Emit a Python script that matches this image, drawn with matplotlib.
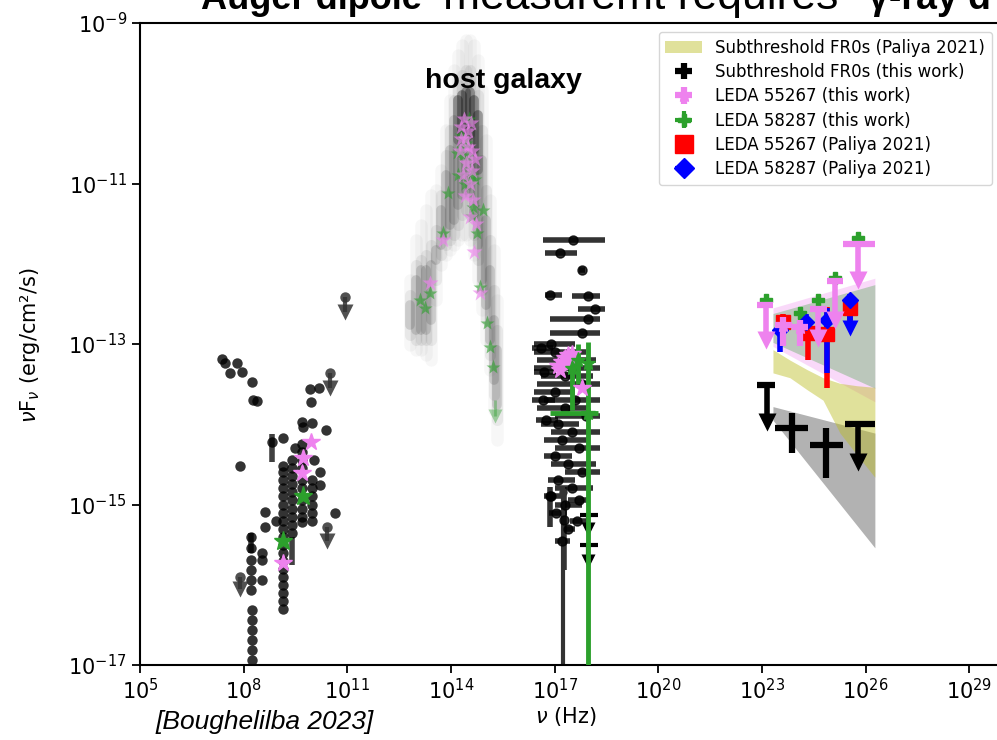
import numpy as np
import matplotlib.pyplot as plt
from matplotlib.patches import Patch

# ---------------- data (log10 nu [Hz], log10 nuFnu [erg/cm2/s]) ----------------
# radio, subthreshold FR0s (this work)
radio_lognu = [7.36, 7.46, 7.60, 7.80, 7.94, 8.23, 8.27, 8.38,
               9.92, 10.18, 9.95, 9.68, 9.97, 9.71, 10.38,
               8.81, 9.14, 7.89, 10.21, 10.21, 10.64, 8.62, 8.62, 8.94,
               8.21, 8.21, 8.21, 8.21, 8.21, 8.21, 8.52, 8.52, 8.52,
               8.23, 8.23, 8.23, 8.23, 8.23, 8.23,
               9.14, 9.14, 9.14, 9.14, 9.14, 9.14, 9.14, 9.14, 9.14, 9.14,
               9.14, 9.14, 9.14, 9.14, 9.14, 9.14, 9.14, 9.14, 9.14,
               9.39, 9.39, 9.39, 9.39, 9.39, 9.39, 9.39, 9.39, 9.39, 9.39,
               9.68, 9.68, 9.68, 9.68, 9.68, 9.68, 9.68, 9.68, 9.68, 9.68,
               9.97, 9.97, 9.97, 9.97, 9.97, 9.97, 9.50, 10.05]
radio_logf = [-13.19, -13.24, -13.36, -13.24, -13.35, -13.47, -13.70, -13.71,
              -13.56, -13.55, -13.72, -13.97, -13.98, -14.03, -14.07,
              -14.22, -14.17, -14.52, -14.59, -14.76, -15.11, -15.09, -15.28, -15.20,
              -15.40, -15.54, -15.69, -15.82, -15.94, -16.07, -15.60, -15.69, -15.94,
              -16.31, -16.44, -16.56, -16.69, -16.81, -16.94,
              -14.52, -14.60, -14.70, -14.80, -14.90, -15.00, -15.10, -15.20, -15.30, -15.40,
              -15.50, -15.60, -15.70, -15.80, -15.90, -16.00, -16.10, -16.20, -16.30,
              -14.45, -14.55, -14.65, -14.75, -14.85, -14.95, -15.05, -15.15, -15.25, -15.35,
              -14.25, -14.35, -14.45, -14.55, -14.70, -14.80, -14.95, -15.05, -15.15, -15.22,
              -14.70, -14.80, -14.90, -15.00, -15.10, -15.20, -14.30, -14.45]
radio_err_lognu = [8.81, 9.39, 8.21]
radio_err_logf = [-14.22, -15.50, -15.45]
radio_err_lo = [-14.47, -15.75, -15.60]
radio_err_hi = [-14.12, -15.40, -15.35]
radio_ul_lognu = [10.50, 10.93, 10.40, 7.89]
radio_ul_logf = [-13.36, -12.41, -15.28, -15.90]
radio_ul_tip = [-13.55, -12.60, -15.45, -16.05]
radio_pink_lognu = [9.95, 9.71, 9.68, 9.15]
radio_pink_logf = [-14.22, -14.42, -14.61, -15.73]
radio_green_lognu = [9.71, 9.15]
radio_green_logf = [-14.90, -15.46]

# host galaxy photometry cloud: band and flux spread (outer / mid / inner / core)
host_lognu = [12.81, 12.99, 13.13, 13.28, 13.42, 13.57, 13.71, 13.86, 13.97, 14.09, 14.20,
              14.32, 14.44, 14.55, 14.67, 14.78, 14.90, 15.01, 15.13, 15.25, 15.33]
host_out_hi = [-12.20, -11.70, -11.52, -11.33, -11.14, -11.08, -10.83, -10.33, -9.96, -9.59, -9.40,
               -9.27, -9.21, -9.21, -9.27, -9.46, -9.83, -10.46, -11.21, -11.83, -12.45]
host_out_lo = [-13.01, -13.07, -13.07, -13.14, -13.20, -12.45, -12.02, -11.89, -11.83, -11.77, -11.70,
               -11.64, -11.64, -11.70, -11.89, -12.20, -12.58, -12.95, -13.32, -13.82, -14.20]
host_mid_hi = [-12.39, -12.02, -11.95, -11.89, -11.77, -11.58, -11.14, -10.64, -10.33, -9.96, -9.77,
               -9.65, -9.59, -9.59, -9.71, -9.90, -10.33, -11.08, -11.70, -12.33, -12.83]
host_mid_lo = [-12.89, -12.95, -12.95, -12.95, -12.95, -12.20, -11.89, -11.77, -11.70, -11.64, -11.52,
               -11.39, -11.33, -11.39, -11.64, -11.95, -12.33, -12.70, -13.14, -13.64, -13.95]
host_in_hi = [-12.51, -12.20, -12.08, -12.08, -12.02, -11.83, -11.33, -10.89, -10.58, -10.21, -9.96,
              -9.90, -9.86, -9.86, -9.96, -10.15, -10.71, -11.45, -12.08, -12.70, -13.07]
host_in_lo = [-12.76, -12.83, -12.83, -12.83, -12.70, -11.95, -11.77, -11.64, -11.52, -11.45, -11.27,
              -11.14, -11.08, -11.14, -11.39, -11.77, -12.20, -12.51, -12.95, -13.45, -13.76]
host_core_lognu = [14.20, 14.32, 14.44, 14.55, 14.67, 14.78]
host_core_hi = [-9.96, -9.90, -9.86, -9.86, -9.96, -10.15]
host_core_lo = [-10.46, -10.40, -10.33, -10.40, -10.58, -10.83]
host_green_lognu = [13.10, 13.39, 13.77, 13.91, 14.18, 14.64, 14.93, 14.75, 14.84,
                    15.04, 15.13, 15.22, 14.30, 14.45, 14.60, 14.40, 14.20, 13.25, 14.70,
                    14.52, 14.35, 14.62]
host_green_logf = [-12.45, -12.36, -11.62, -11.12, -10.62, -11.29, -11.33, -11.62, -12.29,
                   -12.74, -13.04, -13.29, -10.40, -10.50, -10.90, -11.00, -10.90, -12.55, -10.95,
                   -10.20, -10.65, -11.40]
host_pink_lognu = [13.39, 13.77, 14.84, 14.55, 14.30, 14.40, 14.50, 14.60, 14.45,
                   14.35, 14.55, 14.70, 14.25, 14.65, 14.38, 14.58, 14.72,
                   14.28, 14.48, 14.62, 14.42, 14.68]
host_pink_logf = [-12.24, -11.70, -12.36, -11.42, -10.30, -10.45, -10.35, -10.60, -10.75,
                  -10.90, -11.00, -10.70, -10.60, -11.20, -10.20, -10.25, -11.50,
                  -10.45, -10.55, -10.85, -11.15, -11.85]
host_green_ul_lognu = [15.27]
host_green_ul_logf = [-13.70]
host_green_ul_tip = [-13.90]

# X-ray, black (this work): value and x range
xr_lognu = [17.53, 17.16, 17.79, 16.87, 17.97, 18.17, 17.97, 17.79,
            16.90, 17.00, 17.20, 17.50, 17.30, 17.80, 17.00, 17.60, 17.30, 17.90, 17.10,
            17.50, 17.20, 17.70, 17.00, 17.40, 17.80, 17.10, 17.50, 16.90, 17.30, 17.70,
            16.60, 16.70, 16.65, 16.75, 17.05, 17.40, 17.65, 17.20]
xr_lo = [16.66, 16.72, 17.70, 16.72, 17.50, 17.68, 16.87, 16.87,
         16.40, 16.40, 16.50, 16.40, 16.60, 16.50, 16.40, 16.70, 16.50, 17.00, 16.60,
         16.90, 16.70, 17.00, 16.70, 16.90, 17.30, 16.80, 17.00, 16.70, 17.00, 17.40,
         16.35, 16.40, 16.35, 16.45, 16.85, 17.20, 17.45, 17.00]
xr_hi = [18.46, 17.65, 17.88, 17.20, 18.31, 18.46, 18.31, 18.31,
         17.60, 17.90, 18.20, 18.30, 18.10, 18.30, 17.60, 18.30, 18.00, 18.30, 17.70,
         18.30, 18.00, 18.30, 17.50, 18.20, 18.30, 17.60, 18.10, 17.30, 17.80, 18.00,
         16.95, 17.05, 17.00, 17.10, 17.35, 17.60, 17.90, 17.45]
xr_logf = [-11.70, -11.87, -12.08, -12.39, -12.40, -12.56, -12.69, -12.86,
           -13.00, -13.10, -13.20, -13.30, -13.40, -13.50, -13.60, -13.70, -13.80, -13.90, -14.00,
           -14.10, -14.20, -14.30, -14.40, -14.50, -14.60, -14.70, -14.80, -14.90, -15.00, -14.95,
           -13.05, -13.35, -13.70, -13.95, -15.10, -15.30, -15.20, -15.45]
xr_v_lognu = [16.87, 17.27]
xr_v_logf = [-14.90, -15.19]
xr_v_lo = [-15.28, -15.82]
xr_v_hi = [-14.78, -14.78]
xr_ul_lognu = [17.97, 17.97]
xr_ul_logf = [-15.13, -15.50]
xr_ul_tip = [-15.30, -15.70]
xr_ul_xlo = [17.73, 17.73]
xr_ul_xhi = [18.26, 18.26]
xr_long_lognu = [17.24]          # dark grey point whose error runs below the axis
xr_long_logf = [-14.85]
xr_long_lo = [-18.0]
xr_long_hi = [-14.78]
xr_green_lognu = [17.97, 17.97, 17.50, 17.68]
xr_green_logf = [-13.24, -13.86, -13.30, -13.20]
xr_green_ylo = [-18.0, -13.95, -13.82, -13.50]
xr_green_yhi = [-12.98, -13.80, -13.07, -13.00]
xr_green_xlo = [17.93, 16.87, 17.48, 17.66]
xr_green_xhi = [18.01, 18.26, 17.52, 17.70]
xr_pink_lognu = [17.10, 17.20, 17.30, 17.40, 17.50, 17.15, 17.35, 17.79]
xr_pink_logf = [-13.28, -13.22, -13.18, -13.14, -13.12, -13.32, -13.25, -13.55]

# gamma-ray bowties
bt_lognu = [23.32, 23.81, 24.31, 24.77, 25.26, 25.75, 26.27]
paliya_top = [-13.07, -13.20, -13.32, -13.42, -13.49, -13.52, -13.54]
paliya_bot = [-13.36, -13.42, -13.57, -13.70, -14.11, -14.38, -14.66]
bt_end = [23.32, 26.27]
grey_top = [-13.78, -14.11]
grey_bot = [-13.95, -15.54]
pink_top = [-12.55, -12.18]
pink_bot = [-13.03, -13.72]
green_top = [-12.62, -12.26]
green_bot = [-12.98, -13.55]

# gamma-ray points, black (this work)
g_blk_lognu = [23.86, 24.86]
g_blk_logf = [-14.05, -14.26]
g_blk_xlo = [23.38, 24.39]
g_blk_xhi = [24.34, 25.36]
g_blk_ylo = [-14.36, -14.67]
g_blk_yhi = [-13.86, -14.05]
g_blk_ul_lognu = [23.14, 25.79]
g_blk_ul_logf = [-13.51, -14.00]
g_blk_ul_tip = [-13.97, -14.47]
g_blk_ul_xlo = [22.86, 25.40]
g_blk_ul_xhi = [23.38, 26.27]
# LEDA 55267 (this work)
g_pink_lognu = [23.62, 24.10]
g_pink_logf = [-12.76, -12.79]
g_pink_xlo = [23.38, 23.87]
g_pink_xhi = [23.87, 24.33]
g_pink_ylo = [-13.03, -13.03]
g_pink_yhi = [-12.66, -12.70]
g_pink_ul_lognu = [23.12, 24.63, 25.12, 25.79]
g_pink_ul_logf = [-12.51, -12.56, -12.22, -11.75]
g_pink_ul_tip = [-12.95, -12.93, -12.70, -12.20]
g_pink_ul_xlo = [22.86, 24.39, 24.88, 25.35]
g_pink_ul_xhi = [23.33, 24.88, 25.35, 26.27]
# LEDA 58287 (this work)
g_green_lognu = [23.12, 24.63, 25.12, 25.79, 24.10]
g_green_logf = [-12.45, -12.45, -12.18, -11.68, -12.61]
# LEDA 55267 (Paliya 2021)
g_red_lognu = [23.60, 24.33, 24.88, 25.55]
g_red_logf = [-12.72, -12.86, -12.88, -12.55]
g_red_ylo = [-12.90, -13.20, -13.55, -12.80]
g_red_yhi = [-12.62, -12.75, -12.54, -12.40]
# LEDA 58287 (Paliya 2021)
g_blue_lognu = [23.52, 24.27, 24.88, 25.55]
g_blue_logf = [-12.83, -12.72, -12.70, -12.45]
g_blue_ylo = [-13.10, -12.80, -13.36, -12.70]
g_blue_yhi = [-12.70, -12.62, -12.55, -12.38]
g_blue_ul_lognu = [25.55]
g_blue_ul_logf = [-12.62]
g_blue_ul_tip = [-12.80]


def p(a):
    return 10.0 ** np.asarray(a, dtype=float)


def err(v, lo, hi):
    v, lo, hi = p(v), p(lo), p(hi)
    return [v - lo, hi - v]


def upper_limits(ax, lognu, logf, tip, color, lw, ms, z, alpha=1.0):
    # line from the value down to the limit, with an arrow head
    ax.vlines(p(lognu), p(tip), p(logf), colors=color, lw=lw, alpha=alpha, zorder=z)
    ax.plot(p(lognu), p(tip), 'v', color=color, ms=ms, mec='none', alpha=alpha, zorder=z)


fig = plt.figure(figsize=(9.97, 7.40), dpi=100)
ax = fig.add_axes([140 / 997, 75 / 740, 863.75 / 997, 642 / 740])
ax.set_xscale('log')
ax.set_yscale('log')

# host galaxy cloud
ax.vlines(p(host_lognu), p(host_out_lo), p(host_out_hi), colors='black', alpha=0.03, lw=9,
          capstyle='round', zorder=1)
ax.vlines(p(host_lognu), p(host_mid_lo), p(host_mid_hi), colors='black', alpha=0.06, lw=8,
          capstyle='round', zorder=1)
ax.vlines(p(host_lognu), p(host_in_lo), p(host_in_hi), colors='black', alpha=0.12, lw=7,
          capstyle='round', zorder=1)
ax.vlines(p(host_core_lognu), p(host_core_lo), p(host_core_hi), colors='black', alpha=0.22, lw=7,
          capstyle='round', zorder=1)
ax.plot(p(host_green_lognu), p(host_green_logf), '*', color='tab:green', ms=11, alpha=0.6, mec='none', zorder=2)
ax.plot(p(host_pink_lognu), p(host_pink_logf), '*', color='violet', ms=12, alpha=0.65, mec='none', zorder=2)
upper_limits(ax, host_green_ul_lognu, host_green_ul_logf, host_green_ul_tip, 'tab:green', 2, 10, 2, 0.4)

# bowties
ax.fill_between(p(bt_end), p(pink_bot), p(pink_top), color='violet', alpha=0.3, lw=0, zorder=1)
ax.fill_between(p(bt_end), p(green_bot), p(green_top), color='tab:green', alpha=0.3, lw=0, zorder=1)
ax.fill_between(p(bt_end), p(grey_bot), p(grey_top), color='black', alpha=0.3, lw=0, zorder=1)
ax.fill_between(p(bt_lognu), p(paliya_bot), p(paliya_top), color='tab:olive', alpha=0.45, lw=0, zorder=1)

# radio
ax.plot(p(radio_lognu), p(radio_logf), 'o', color='black', ms=7.5, alpha=0.8, mec='none', zorder=2)
ax.errorbar(p(radio_err_lognu), p(radio_err_logf), yerr=err(radio_err_logf, radio_err_lo, radio_err_hi),
            fmt='none', ecolor='black', alpha=0.75, elinewidth=4, zorder=2)
ax.plot(p(radio_ul_lognu), p(radio_ul_logf), 'o', color='#333333', ms=7.5, alpha=0.85, mec='none', zorder=2)
upper_limits(ax, radio_ul_lognu, radio_ul_logf, radio_ul_tip, '#333333', 3, 11, 2, 0.85)
ax.plot(p(radio_pink_lognu), p(radio_pink_logf), '*', color='violet', ms=13, zorder=3)
ax.plot(p(radio_green_lognu), p(radio_green_logf), '*', color='tab:green', ms=14, zorder=3)

# X-ray
ax.errorbar(p(xr_lognu), p(xr_logf), xerr=err(xr_lognu, xr_lo, xr_hi), fmt='o', color='black',
            ms=6.5, alpha=0.8, elinewidth=4, zorder=2)
ax.errorbar(p(xr_v_lognu), p(xr_v_logf), yerr=err(xr_v_logf, xr_v_lo, xr_v_hi),
            fmt='o', color='black', ms=6.5, alpha=0.8, elinewidth=4, zorder=2)
ax.errorbar(p(xr_ul_lognu), p(xr_ul_logf), xerr=err(xr_ul_lognu, xr_ul_xlo, xr_ul_xhi),
            fmt='none', ecolor='black', elinewidth=3, zorder=2)
upper_limits(ax, xr_ul_lognu, xr_ul_logf, xr_ul_tip, 'black', 3, 10, 2)
ax.errorbar(p(xr_long_lognu), p(xr_long_logf), yerr=err(xr_long_logf, xr_long_lo, xr_long_hi),
            fmt='o', color='#333333', ms=5, elinewidth=3, zorder=2)
ax.errorbar(p(xr_green_lognu), p(xr_green_logf), xerr=err(xr_green_lognu, xr_green_xlo, xr_green_xhi),
            yerr=err(xr_green_logf, xr_green_ylo, xr_green_yhi), fmt='*', color='tab:green',
            ms=11, elinewidth=3.5, zorder=3)
ax.plot(p(xr_pink_lognu), p(xr_pink_logf), '*', color='violet', ms=13, zorder=3)

# gamma rays
ax.errorbar(p(g_red_lognu), p(g_red_logf), yerr=err(g_red_logf, g_red_ylo, g_red_yhi), fmt='s',
            color='red', ms=10, elinewidth=4, zorder=3)
ax.errorbar(p(g_blue_lognu), p(g_blue_logf), yerr=err(g_blue_logf, g_blue_ylo, g_blue_yhi), fmt='D',
            color='blue', ms=8, elinewidth=4, zorder=3)
upper_limits(ax, g_blue_ul_lognu, g_blue_ul_logf, g_blue_ul_tip, 'blue', 4, 12, 3)
ax.plot(p(g_green_lognu), p(g_green_logf), 'P', color='tab:green', ms=8, zorder=3)

ax.errorbar(p(g_pink_ul_lognu), p(g_pink_ul_logf), xerr=err(g_pink_ul_lognu, g_pink_ul_xlo, g_pink_ul_xhi),
            fmt='none', ecolor='violet', elinewidth=4.5, zorder=4)
upper_limits(ax, g_pink_ul_lognu, g_pink_ul_logf, g_pink_ul_tip, 'violet', 4, 13, 4)
ax.errorbar(p(g_blk_ul_lognu), p(g_blk_ul_logf), xerr=err(g_blk_ul_lognu, g_blk_ul_xlo, g_blk_ul_xhi),
            fmt='none', ecolor='black', elinewidth=4.5, zorder=3)
upper_limits(ax, g_blk_ul_lognu, g_blk_ul_logf, g_blk_ul_tip, 'black', 4, 13, 3)

h_black = ax.errorbar(p(g_blk_lognu), p(g_blk_logf), xerr=err(g_blk_lognu, g_blk_xlo, g_blk_xhi),
                      yerr=err(g_blk_logf, g_blk_ylo, g_blk_yhi), fmt='o', color='black', ms=4,
                      elinewidth=4.5, zorder=3)
h_pink = ax.errorbar(p(g_pink_lognu), p(g_pink_logf), xerr=err(g_pink_lognu, g_pink_xlo, g_pink_xhi),
                     yerr=err(g_pink_logf, g_pink_ylo, g_pink_yhi), fmt='*', color='violet', ms=10,
                     elinewidth=4.5, zorder=4)

# legend handles
h_paliya = Patch(facecolor='tab:olive', alpha=0.45, edgecolor='none')
h_green = ax.errorbar([], [], xerr=[], yerr=[], fmt='P', color='tab:green', ms=9, elinewidth=3)
h_red = ax.errorbar([], [], xerr=[], yerr=[], fmt='s', color='red', ms=13, elinewidth=3)
h_blue = ax.errorbar([], [], xerr=[], yerr=[], fmt='D', color='blue', ms=10, elinewidth=3)
ax.legend([h_paliya, h_black, h_pink, h_green, h_red, h_blue],
          ['Subthreshold FR0s (Paliya 2021)', 'Subthreshold FR0s (this work)',
           'LEDA 55267 (this work)', 'LEDA 58287 (this work)',
           'LEDA 55267 (Paliya 2021)', 'LEDA 58287 (Paliya 2021)'],
          loc='upper right', bbox_to_anchor=(0.9864, 0.986), borderaxespad=0, fontsize=12,
          labelspacing=0.38, handlelength=2.2)

ax.set_xlim(1e5, 1e30)
ax.set_ylim(1e-17, 1e-9)
ax.set_xticks([10.0 ** k for k in range(5, 30, 3)])
ax.set_yticks([10.0 ** k for k in range(-17, -8, 2)])
ax.minorticks_off()
ax.tick_params(labelsize=15, length=6, width=1.3)
for s in ax.spines.values():
    s.set_linewidth(1.5)

ax.set_xlabel(r'$\nu$ (Hz)', fontsize=15)
ax.xaxis.set_label_coords(0.493, -0.062)
ax.set_ylabel(r'$\nu$F$_\nu$ (erg/cm²/s)', fontsize=15)
ax.yaxis.set_label_coords(-0.1135, 0.498)

ax.text(10 ** 15.53, 10 ** -9.81, 'host galaxy', fontsize=20.5, fontweight='bold',
        family='Liberation Sans', ha='center', va='baseline')
fig.text(155 / 997, 1 - 729 / 740, '[Boughelilba 2023]', fontsize=19, style='italic',
         family='Liberation Sans', ha='left', va='baseline')

# slide header, cropped at the top of the picture
ty = 1 - 9 / 740
fig.text(201 / 997, ty, 'Auger dipole', fontsize=26, fontweight='bold', family='Liberation Sans', va='baseline')
fig.text(443 / 997, ty, 'measuremt requires', fontsize=32, family='Liberation Sans', va='baseline')
fig.text(868 / 997, ty, 'γ-ray d', fontsize=27, fontweight='bold', family='Liberation Sans', va='baseline')

fig.savefig('out.png', dpi=100)
